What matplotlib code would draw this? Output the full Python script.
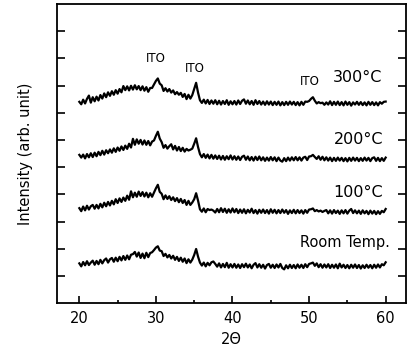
import numpy as np
import matplotlib
matplotlib.use("Agg")
import matplotlib.pyplot as plt

# 2-theta range of the scans (0.25 deg steps)
two_theta_start, two_theta_end = 20, 60

labels = ["Room Temp.", "100°C", "200°C", "300°C"]
offsets = [13.1, 33.2, 52.6, 73.1]

room = [1.5, 0.4, 2.0, 0.8, 2.3, 0.9, 1.8, 2.5, 1.0,
        2.4, 1.2, 2.8, 1.5, 2.7, 3.3, 1.8, 3.0,
        3.5, 2.1, 3.6, 2.3, 3.9, 2.6, 4.2, 2.8,
        4.4, 3.0, 4.7, 4.9, 5.7, 4.0, 5.5, 3.5,
        5.1, 3.4, 5.4, 3.8, 5.3, 5.6, 6.4, 7.3,
        7.8, 6.2, 6.0, 4.2, 5.0, 3.7, 4.6, 3.3,
        4.3, 2.8, 3.9, 2.4, 3.6, 2.1, 3.3, 1.6,
        3.0, 1.8, 2.9, 4.6, 6.8, 4.0, 1.8, 0.7,
        1.8, 0.4, 1.7, 0.8, 1.9, 2.2, 1.3, 0.3,
        1.5, 0.0, 1.3, 0.1, 1.7, -0.1, 1.2, 0.0,
        1.3, -0.1, 1.1, -0.2, 1.2, 0.1, 1.4, 0.0,
        1.1, -0.3, 1.0, 1.6, 0.0, 1.2, -0.1, 1.0,
        -0.4, 0.9, 1.3, -0.1, 1.0, -0.2, 1.1, 0.0,
        1.3, -0.2, -0.7, 0.8, -0.3, 1.0, -0.2, 0.9,
        -0.3, 1.1, -0.1, 1.0, -0.2, 1.2, 0.1, 1.3,
        1.5, 1.8, 0.6, 1.5, 0.1, 1.2, -0.1, 1.1,
        0.0, 1.2, -0.2, 1.0, -0.1, 1.1, -0.3, 1.4,
        0.0, 1.0, -0.2, 0.9, -0.3, 1.0, -0.1, 1.1,
        -0.2, 0.9, -0.4, 0.8, -0.2, 1.0, -0.1, 0.9,
        -0.3, 1.0, -0.1, 1.1, 0.0, 1.2, 0.8, 1.9]

t100 = [1.7, 0.6, 2.3, 0.9, 2.6, 1.2, 2.4, 2.9, 1.5,
        2.9, 1.6, 3.3, 2.0, 3.7, 2.4, 4.0, 2.7,
        4.4, 3.1, 5.0, 3.6, 5.3, 4.0, 5.6, 4.4,
        6.3, 4.8, 7.9, 5.7, 7.4, 5.9, 7.8, 6.2,
        7.6, 6.0, 7.4, 5.7, 7.2, 5.9, 7.5, 9.0,
        10.3, 7.7, 7.0, 5.0, 6.4, 5.1, 6.1, 4.7,
        5.7, 4.3, 5.4, 3.9, 5.1, 3.6, 4.7, 2.9,
        4.4, 2.9, 3.8, 5.0, 7.2, 4.5, 1.3, 0.4,
        1.6, 0.2, 1.4, 1.0, 1.2, 0.8, 0.1, 1.4,
        0.2, 1.7, 0.3, 1.5, 0.0, 1.3, 0.1, 1.6,
        0.2, 1.4, -0.1, 1.2, 0.0, 1.3, -0.2, 1.1,
        0.1, 1.5, -0.1, 1.0, -0.3, 1.1, 0.0, 1.2,
        -0.1, 1.0, -0.3, 1.3, 0.0, 1.1, -0.2, 1.0,
        -0.1, 1.2, 0.0, 1.0, -0.4, 0.9, -0.1, 1.1,
        -0.2, 1.0, -0.1, 0.9, -0.3, 1.0, 0.0, 1.2,
        1.3, 1.6, 0.6, 1.0, 0.5, 0.8, 0.3, 0.7,
        1.0, -0.2, 0.9, -0.3, 1.0, -0.1, 0.8, -0.4,
        0.9, -0.2, 1.0, -0.3, 0.8, 1.4, -0.1, 0.9,
        -0.2, 0.8, -0.4, 0.9, -0.2, 0.7, -0.5, 0.8,
        -0.3, 0.7, -0.5, 0.6, -0.4, 0.7, 0.2, 1.4]

t200 = [1.9, 0.9, 2.0, 0.6, 2.2, 1.0, 2.5, 1.1, 2.7,
        1.4, 3.0, 1.8, 3.4, 2.0, 3.6, 2.5, 3.9,
        2.7, 4.3, 3.0, 4.6, 3.4, 5.0, 3.7, 5.3,
        4.1, 6.0, 4.6, 7.8, 5.6, 7.6, 6.0, 7.4,
        5.7, 7.2, 5.6, 7.0, 5.4, 6.8, 7.2, 8.9,
        10.4, 7.9, 6.6, 4.5, 5.5, 4.2, 5.1, 5.8,
        3.9, 5.2, 3.5, 4.8, 3.3, 4.5, 3.1, 4.1,
        3.5, 3.8, 4.2, 6.0, 8.0, 4.8, 2.2, 1.0,
        2.2, 0.8, 2.0, 0.6, 1.9, 0.5, 1.7, 0.4,
        1.6, 0.2, 1.5, 0.1, 1.4, 0.3, 1.7, 0.2,
        1.4, 0.1, 1.3, 0.0, 1.2, 1.6, 0.1, 1.3,
        -0.1, 1.1, -0.2, 1.2, 0.0, 1.3, -0.1, 1.0,
        -0.3, 0.9, -0.2, 1.1, -0.1, 1.0, -0.4, 0.9,
        -0.2, -0.6, 0.7, -0.4, 0.9, -0.2, 1.0, -0.1,
        1.1, -0.1, 1.0, -0.2, 0.9, 1.2, 0.0, 1.3,
        1.4, 1.9, 1.1, 0.4, 1.4, 0.1, 1.2, -0.1,
        1.0, -0.2, 0.9, -0.4, 0.8, -0.3, 0.9, -0.2,
        0.8, -0.4, 0.7, -0.5, 0.8, -0.3, 0.9, -0.2,
        0.8, -0.4, 0.7, -0.3, 0.9, -0.2, 0.8, -0.4,
        0.7, 1.0, -0.3, 0.8, -0.4, 0.7, -0.3, 0.9]

t300 = [0.9, 0.0, 1.7, 0.3, 2.0, 3.2, 0.6, 2.6, 1.1,
        2.8, 1.4, 3.4, 2.1, 4.0, 2.6, 4.4, 3.1,
        4.8, 3.5, 5.2, 3.9, 5.6, 4.4, 6.7, 5.2,
        6.6, 5.1, 6.8, 5.4, 7.0, 5.5, 6.7, 5.2,
        6.6, 5.0, 6.3, 4.6, 6.0, 6.0, 7.3, 8.6,
        9.5, 7.6, 7.0, 4.9, 5.9, 4.7, 5.6, 4.3,
        5.1, 3.7, 4.5, 3.5, 4.2, 2.7, 3.8, 1.9,
        3.5, 2.1, 3.4, 5.6, 7.9, 4.3, 1.5, 0.5,
        1.7, 0.3, 1.6, 0.1, 1.4, 0.2, 1.5, 0.0,
        1.3, -0.1, 1.2, 0.1, 1.5, -0.2, 1.1, 0.0,
        1.2, -0.1, 1.4, 0.1, 1.3, 1.8, 0.2, 1.4,
        0.0, 1.2, -0.2, 1.5, 0.1, 1.2, -0.1, 1.0,
        -0.2, 1.1, -0.1, 1.0, -0.3, 0.9, -0.2, 1.0,
        -0.4, 0.8, -0.3, 0.9, -0.2, 1.0, -0.1, 0.9,
        -0.3, 0.8, -0.4, 0.9, -0.2, 1.0, 0.9, 1.2,
        2.0, 2.6, 1.3, 0.3, 0.8, 0.4, 0.6, -0.2,
        0.7, -0.1, 1.1, -0.3, 0.9, -0.2, 1.0, -0.3,
        0.8, -0.4, 1.0, -0.2, 0.8, -0.5, 0.7, -0.1,
        0.9, -0.2, 0.8, -0.3, 0.7, -0.4, 0.9, -0.2,
        0.8, -0.3, 0.7, -0.4, 0.8, 0.2, 0.9, 1.0]

series = [room, t100, t200, t300]

# annotations
label_x = [60.6, 59.6, 59.7, 59.6]
label_y = [22.2, 40.5, 60.1, 82.8]
ito_x = [30.0, 35.1, 50.1]
ito_y = [90.1, 86.4, 81.3]

xticks_major = [20, 30, 40, 50, 60]
xticks_minor = [25, 35, 45, 55]
yticks = [10, 20, 30, 40, 50, 60, 70, 80, 90, 100]

plt.rcParams['font.family'] = ['DejaVu Sans']
fig = plt.figure(figsize=(4.08, 3.57), dpi=100)
ax = fig.add_axes([0.140, 0.151, 0.855, 0.838])

for vals, off in zip(series, offsets):
    v = np.asarray(vals)
    x = np.linspace(two_theta_start, two_theta_end, len(v))
    ax.plot(x, v + off, color='black', lw=1.6, solid_joinstyle='round')

for lab, lx, ly in zip(labels, label_x, label_y):
    ax.text(lx, ly, lab, ha='right', va='center', fontsize=11.5 if lab != "Room Temp." else 10.5)
for ix, iy in zip(ito_x, ito_y):
    ax.text(ix, iy, "ITO", ha='center', va='center', fontsize=8.5)

ax.set_xlim(17.1, 62.65)
ax.set_ylim(0, 110)
ax.set_xticks(xticks_major)
ax.set_xticks(xticks_minor, minor=True)
ax.set_yticks(yticks)
ax.set_yticklabels([])
ax.tick_params(axis='x', which='major', direction='in', length=5, width=1.2, labelsize=10.5, pad=6)
ax.tick_params(axis='x', which='minor', direction='in', length=2.5, width=1.2)
ax.tick_params(axis='y', which='major', direction='in', length=6, width=1.2, left=True, right=True)
for s in ax.spines.values():
    s.set_linewidth(1.3)

ax.set_xlabel("2Θ", fontsize=10.5, labelpad=4)
ax.set_ylabel("Intensity (arb. unit)", fontsize=10.5, labelpad=14)

fig.savefig("out.png", dpi=100)
